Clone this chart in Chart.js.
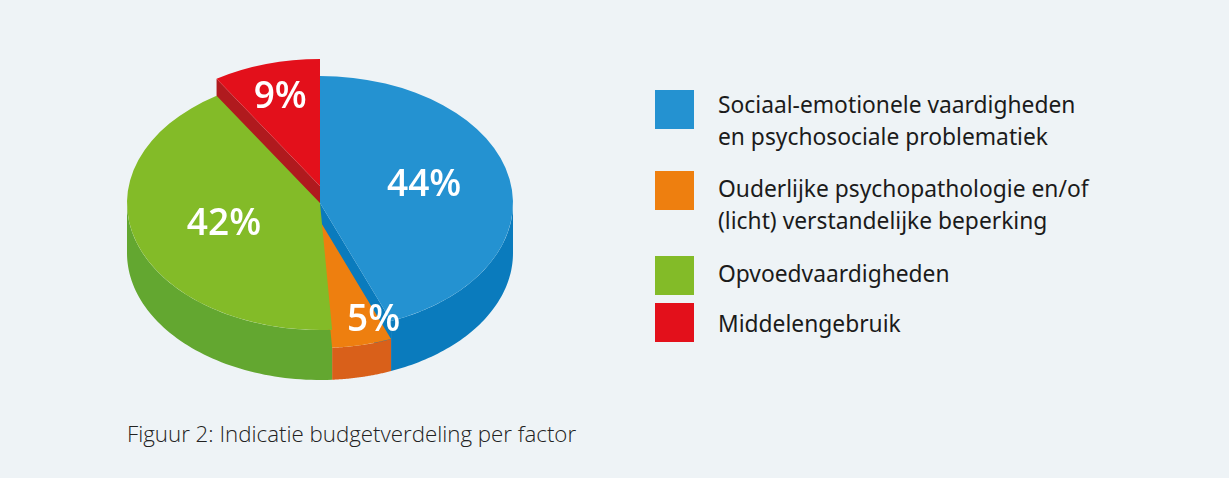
<!DOCTYPE html>
<html>
<head>
<meta charset="utf-8">
<script src="https://cdn.jsdelivr.net/npm/chart.js@4.4.1/dist/chart.umd.min.js"></script>
<style>
  body { margin: 0; background: #eef3f6; width: 1229px; height: 478px; overflow: hidden; font-family: "Noto Sans", sans-serif; }
  #wrap { position: absolute; left: 0; top: 0; width: 640px; height: 406px; }
  .swatch { position: absolute; left: 655px; width: 39px; height: 39px; }
  .txt { position: absolute; left: 718px; white-space: nowrap; font-size: 22.8px; line-height: 32px; color: #1b1b1b; }
  #caption { position: absolute; left: 127px; top: 421px; font-family: "Open Sans", "Noto Sans", sans-serif; font-size: 22.3px; line-height: 26px; font-weight: 300; color: #222; white-space: nowrap; }
</style>
</head>
<body>
<div id="wrap"><canvas id="pie" width="640" height="406"></canvas></div>
<div id="legend"></div>
<div id="caption">Figuur 2: Indicatie budgetverdeling per factor</div>
<script>
// data
const categories = [
    ["Sociaal-emotionele vaardigheden", "en psychosociale problematiek"],
    ["Ouderlijke psychopathologie en/of", "(licht) verstandelijke beperking"],
    ["Opvoedvaardigheden"],
    ["Middelengebruik"]
]
const shares = [44, 5, 42, 9]
const valueLabels = ["44%", "5%", "42%", "9%"]

const topColors = ["#2492d1", "#ee7f0f", "#83bb28", "#e3101b"]
const sideColors = ["#0a7bbd", "#d9601a", "#63a730", "#b01a1e"]

// fake 3d: flatten the pie, then draw side walls under it
const pie3d = {
    id: "pie3d",
    beforeDatasetsDraw(chart, args, opts) {
        const ctx = chart.ctx
        const arcs = chart.getDatasetMeta(0).data
        const k = opts.tilt
        const depth = opts.depth

        const geo = arcs.map((arc, i) => {
            const p = arc.getProps(["x", "y", "startAngle", "endAngle", "outerRadius"], true)
            return { ...p, lift: opts.lifts[i] || 0 }
        })

        // cut faces
        geo.forEach((g, i) => {
            const faces = []
            if (Math.cos(g.startAngle) < 0) faces.push(g.startAngle)
            if (Math.cos(g.endAngle) > 0) faces.push(g.endAngle)
            const h = depth - g.lift
            ctx.fillStyle = sideColors[i]
            faces.forEach(a => {
                const rx = g.x + g.outerRadius * Math.cos(a)
                const ry = g.y + g.lift + k * g.outerRadius * Math.sin(a)
                ctx.beginPath()
                ctx.moveTo(g.x, g.y + g.lift)
                ctx.lineTo(rx, ry)
                ctx.lineTo(rx, ry + h)
                ctx.lineTo(g.x, g.y + g.lift + h)
                ctx.closePath()
                ctx.fill()
            })
        })

        // outer walls (front half only)
        geo.forEach((g, i) => {
            const a0 = Math.max(g.startAngle, 0)
            const a1 = Math.min(g.endAngle, Math.PI)
            if (a1 <= a0) return
            const h = depth - g.lift
            const steps = 60
            ctx.fillStyle = sideColors[i]
            ctx.beginPath()
            for (let s = 0; s <= steps; s++) {
                const a = a0 + (a1 - a0) * s / steps
                const px = g.x + g.outerRadius * Math.cos(a)
                const py = g.y + g.lift + k * g.outerRadius * Math.sin(a)
                if (s === 0) ctx.moveTo(px, py)
                else ctx.lineTo(px, py)
            }
            for (let s = steps; s >= 0; s--) {
                const a = a0 + (a1 - a0) * s / steps
                ctx.lineTo(g.x + g.outerRadius * Math.cos(a), g.y + g.lift + k * g.outerRadius * Math.sin(a) + h)
            }
            ctx.closePath()
            ctx.fill()
        })

        // top faces, drawn by the arc elements themselves
        arcs.forEach((arc, i) => {
            const g = geo[i]
            ctx.save()
            ctx.translate(g.x, g.y + g.lift)
            ctx.scale(1, k)
            ctx.translate(-g.x, -g.y)
            arc.draw(ctx)
            ctx.restore()
        })
        return false
    },
    afterDraw(chart, args, opts) {
        const ctx = chart.ctx
        const arcs = chart.getDatasetMeta(0).data
        const k = opts.tilt
        ctx.save()
        ctx.fillStyle = "#ffffff"
        ctx.font = "600 37px 'Open Sans', 'Noto Sans', sans-serif"
        ctx.textAlign = "center"
        ctx.textBaseline = "middle"
        arcs.forEach((arc, i) => {
            const p = arc.getProps(["x", "y", "startAngle", "endAngle", "outerRadius"], true)
            const mid = (p.startAngle + p.endAngle) / 2
            const f = opts.labelRadius[i]
            const nudge = opts.labelNudge[i]
            const lx = p.x + f * p.outerRadius * Math.cos(mid) + nudge[0]
            const ly = p.y + (opts.lifts[i] || 0) + k * f * p.outerRadius * Math.sin(mid) + nudge[1]
            ctx.fillText(valueLabels[i], lx, ly)
        })
        ctx.restore()
    }
}

const context = document.getElementById("pie").getContext("2d")
const newChart = new Chart(context, {
    type: "pie",
    plugins: [pie3d],
    data: {
        labels: categories,
        datasets: [{
            data: shares,
            backgroundColor: topColors,
            borderWidth: 0
        }]
    },
    options: {
        responsive: false,
        animation: false,
        radius: 193,
        layout: { padding: 0 },
        events: [],
        plugins: {
            legend: { display: false },
            tooltip: { enabled: false },
            pie3d: {
                tilt: 0.658,
                depth: 50,
                lifts: [0, 18, 0, -17],
                labelRadius: [0.56, 0.8, 0.523, 0.738],
                labelNudge: [[-2, -4], [20, 0], [0, 1], [0, 1]]
            }
        }
    }
})

// legend built from the same arrays
const swatchTops = [90, 171, 256, 303]
const textTops = [89, 173, 258, 308]
const legend = document.getElementById("legend")
categories.forEach((lines, i) => {
    const sw = document.createElement("div")
    sw.className = "swatch"
    sw.style.top = swatchTops[i] + "px"
    sw.style.background = topColors[i]
    const tx = document.createElement("div")
    tx.className = "txt"
    tx.style.top = textTops[i] + "px"
    tx.innerHTML = lines.join("<br>")
    legend.appendChild(sw)
    legend.appendChild(tx)
})
</script>
</body>
</html>
